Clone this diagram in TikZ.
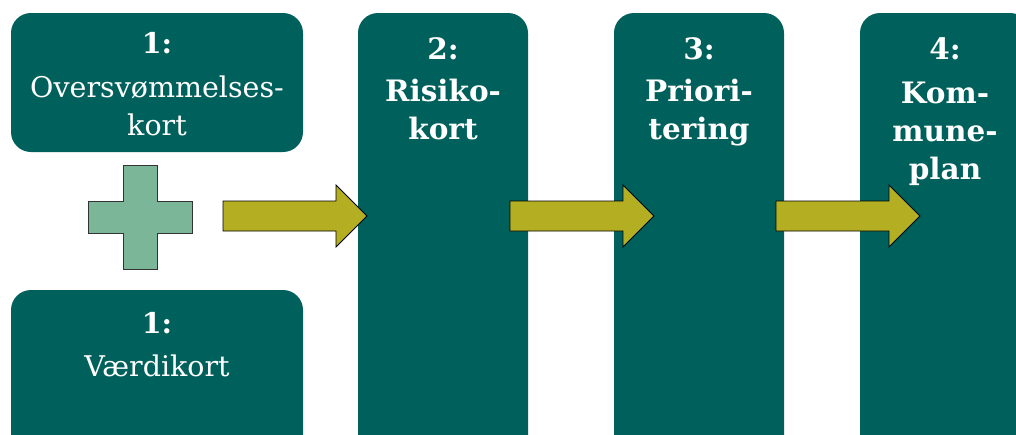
\documentclass[tikz,border=0pt]{standalone}
\usepackage{fontspec}
\setmainfont{DejaVu Serif}
\definecolor{teal}{HTML}{00615C}
\definecolor{plusgreen}{HTML}{7BB699}
\definecolor{olive}{HTML}{B3AE22}
\begin{document}
\begin{tikzpicture}[x=1pt,y=-1pt,
  box/.style={rectangle,rounded corners=20pt,fill=teal,draw=none,inner sep=0pt},
  label/.style={text=white,align=center,inner sep=0pt,anchor=north,
    font=\fontsize{28.5}{37.5}\selectfont},
  boldlabel/.style={label,font=\fontsize{29.5}{38}\selectfont\bfseries},
  blockarrow/.style={fill=olive,draw=black,line width=0.9pt,line join=miter},
  plus/.style={fill=plusgreen,draw=black!80,line width=0.9pt}]
  \clip (0,0) rectangle (1016,434);
  \fill[white] (0,0) rectangle (1016,434);
  % step boxes
  \node[box,minimum width=292pt,minimum height=139pt] (kortA) at (157,82.5) {};
  \node[box,minimum width=292pt,minimum height=180pt] (kortB) at (157,380) {};
  \node[box,minimum width=170pt,minimum height=457pt] (risiko) at (443,241.5) {};
  \node[box,minimum width=170pt,minimum height=457pt] (prior) at (699,241.5) {};
  \node[box,minimum width=170pt,minimum height=457pt] (plan) at (945,241.5) {};
  % box texts
  \node[label] (tA) at (157,32) {\textbf{1:}\\[7pt]Oversvømmelses-\\kort};
  \node[label] (tB) at (157,312) {\textbf{1:}\\[6pt]Værdikort};
  \node[boldlabel] (tR) at (443,37) {2:\\[4pt]Risiko-\\kort};
  \node[boldlabel] (tP) at (699,37) {3:\\[4pt]Priori-\\tering};
  \node[boldlabel] (tK) at (945,37) {4:\\[6pt]Kom-\\mune-\\plan};
  % plus sign between the two first maps
  \coordinate (pc) at (140,217);
  \draw[plus] (pc) ++(-17,-52) -- ++(34,0) -- ++(0,36) -- ++(35,0) -- ++(0,32)
    -- ++(-35,0) -- ++(0,36) -- ++(-34,0) -- ++(0,-36) -- ++(-35,0) -- ++(0,-32)
    -- ++(35,0) -- cycle;
  % block arrows
  \coordinate (a1) at (223,216);
  \coordinate (a2) at (510,216);
  \coordinate (a3) at (776,216);
  \foreach \a in {a1,a2,a3}{
    \draw[blockarrow] (\a) ++(0,-15) -- ++(113,0) -- ++(0,-16) -- ++(31,31)
      -- ++(-31,31) -- ++(0,-16) -- ++(-113,0) -- cycle;
  }
\end{tikzpicture}
\end{document}
